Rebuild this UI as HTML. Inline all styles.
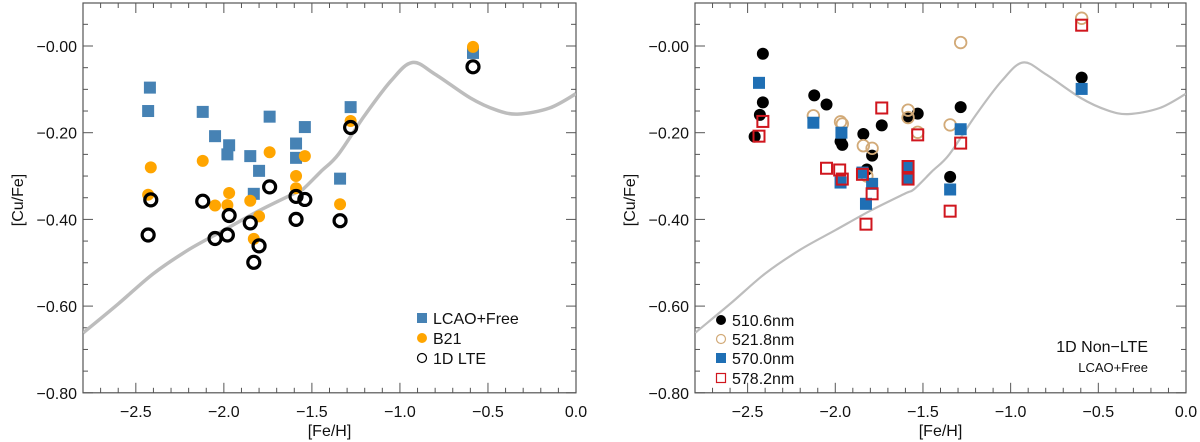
<!DOCTYPE html>
<html><head><meta charset="utf-8"><style>
body{margin:0;background:#fff;}
svg{display:block;font-family:"Liberation Sans",sans-serif;}
</style></head><body>
<svg id="chart" width="1200" height="442" xmlns="http://www.w3.org/2000/svg"></svg>
<script>
// ---- data ----
const modelX = [-2.8,-2.6,-2.4,-2.2,-2.0,-1.8,-1.6,-1.55,-1.45,-1.35,-1.2,-1.05,-0.93,-0.8,-0.6,-0.45,-0.33,-0.15,0.0];
const modelY = [-0.662,-0.595,-0.525,-0.47,-0.425,-0.38,-0.34,-0.33,-0.29,-0.25,-0.16,-0.08,-0.038,-0.065,-0.12,-0.148,-0.157,-0.143,-0.11];

const lcaoX = [-2.42,-2.43,-2.12,-2.05,-1.97,-1.98,-1.74,-1.85,-1.80,-1.83,-1.59,-1.59,-1.54,-1.28,-1.34,-0.585];
const lcaoY = [-0.096,-0.150,-0.152,-0.208,-0.229,-0.250,-0.163,-0.254,-0.288,-0.341,-0.225,-0.258,-0.187,-0.141,-0.306,-0.016];
const b21X = [-2.415,-2.43,-2.12,-2.05,-1.97,-1.98,-1.74,-1.85,-1.80,-1.83,-1.59,-1.59,-1.54,-1.28,-1.34,-0.585];
const b21Y = [-0.280,-0.343,-0.265,-0.368,-0.339,-0.367,-0.245,-0.357,-0.393,-0.445,-0.300,-0.328,-0.254,-0.173,-0.365,-0.002];
const lteX = [-2.415,-2.43,-2.12,-2.05,-1.97,-1.98,-1.74,-1.85,-1.80,-1.83,-1.59,-1.59,-1.54,-1.28,-1.34,-0.585];
const lteY = [-0.355,-0.436,-0.358,-0.444,-0.391,-0.436,-0.325,-0.408,-0.461,-0.499,-0.347,-0.400,-0.354,-0.188,-0.403,-0.048];

const n5106X = [-2.413,-2.413,-2.43,-2.46,-2.12,-2.05,-1.97,-1.96,-1.84,-1.79,-1.82,-1.735,-1.585,-1.53,-1.285,-1.345,-0.595];
const n5106Y = [-0.018,-0.130,-0.159,-0.209,-0.114,-0.135,-0.220,-0.228,-0.203,-0.253,-0.285,-0.183,-0.165,-0.156,-0.141,-0.302,-0.073];
const n5218X = [-2.125,-1.97,-1.96,-1.84,-1.79,-1.82,-1.585,-1.585,-1.53,-1.345,-1.285,-0.595];
const n5218Y = [-0.161,-0.175,-0.180,-0.230,-0.236,-0.300,-0.148,-0.165,-0.199,-0.182,0.008,0.064];
const n5700X = [-2.435,-2.125,-1.965,-1.97,-1.845,-1.79,-1.825,-1.585,-1.585,-1.285,-1.345,-0.595];
const n5700Y = [-0.085,-0.177,-0.200,-0.315,-0.292,-0.318,-0.364,-0.277,-0.307,-0.192,-0.331,-0.099];
const n5782X = [-2.413,-2.435,-2.05,-1.975,-1.96,-1.845,-1.79,-1.825,-1.735,-1.585,-1.585,-1.53,-1.285,-1.345,-0.595];
const n5782Y = [-0.174,-0.208,-0.282,-0.286,-0.307,-0.296,-0.341,-0.411,-0.143,-0.278,-0.307,-0.205,-0.224,-0.381,0.048];

const xTickVals = [-2.5,-2.0,-1.5,-1.0,-0.5,0.0];
const xTickLabels = ["\u22122.5","\u22122.0","\u22121.5","\u22121.0","\u22120.5","0.0"];
const yTickVals = [0.0,-0.2,-0.4,-0.6,-0.8];
const yTickLabels = ["\u22120.00","\u22120.20","\u22120.40","\u22120.60","\u22120.80"];

// ---- drawing ----
const NS = "http://www.w3.org/2000/svg";
const svg = document.getElementById('chart');
function mk(tag, attrs, parent){
  const e = document.createElementNS(NS, tag);
  for (const k in attrs) e.setAttribute(k, attrs[k]);
  (parent||svg).appendChild(e);
  return e;
}
function panel(left, right, name){
  const top = 3, y0 = 46, ppu = 433.5;
  const sx = v => right + (v - 0.0) * (right - left) / 2.8;
  const sy = v => y0 - v * ppu;
  const bottom = sy(-0.8);
  const g = mk('g', {});
  
  
  const frame = mk('rect', {x:left, y:top, width:right-left, height:bottom-top, fill:'none', stroke:'#555', 'stroke-width':1.2}, g);
  
  
  for (let i = 0; i <= 28; i++) {
    const v = -2.8 + i * 0.1;
    const major = Math.abs(v*2 - Math.round(v*2)) < 1e-6;
    const L = major ? 10 : 5;
    const x = sx(v);
    mk('line', {x1:x, x2:x, y1:bottom, y2:bottom-L, stroke:'#555', 'stroke-width':1}, g);
    mk('line', {x1:x, x2:x, y1:top, y2:top+L, stroke:'#555', 'stroke-width':1}, g);
  }
  xTickVals.forEach((v, i) => {
    const t = mk('text', {x:sx(v), y:bottom+24, 'font-size':16, 'text-anchor':'middle', fill:'#111'}, g);
    t.textContent = xTickLabels[i];
    
    
  });
  for (let i = 0; i <= 18; i++) {
    const v = -0.8 + i * 0.05;
    const major = Math.abs(v*5 - Math.round(v*5)) < 1e-6;
    const L = major ? 10 : 5;
    const y = sy(v);
    if (y < top) continue;
    mk('line', {x1:left, x2:left+L, y1:y, y2:y, stroke:'#555', 'stroke-width':1}, g);
    mk('line', {x1:right, x2:right-L, y1:y, y2:y, stroke:'#555', 'stroke-width':1}, g);
  }
  yTickVals.forEach((v, i) => {
    const t = mk('text', {x:left-6, y:sy(v)+6, 'font-size':16, 'text-anchor':'end', fill:'#111'}, g);
    t.textContent = yTickLabels[i];
    
    
  });
  const xl = mk('text', {x:(left+right)/2, y:436, 'font-size':16, 'text-anchor':'middle', fill:'#111'}, g);
  xl.textContent = '[Fe/H]';
  
  
  const yx = left - 60, yy = 200;
  const yl = mk('text', {x:yx, y:yy, 'font-size':16, 'text-anchor':'middle', fill:'#111', transform:`rotate(-90 ${yx} ${yy})`}, g);
  yl.textContent = '[Cu/Fe]';
  
  
  return {g, sx, sy, left, right, top, bottom};
}
function curve(p, width){
  const clipId = 'clip' + Math.round(p.left);
  const cp = mk('clipPath', {id:clipId}, p.g);
  mk('rect', {x:p.left, y:p.top, width:p.right-p.left, height:p.bottom-p.top}, cp);
  const pts = modelX.map((v, i) => [p.sx(v), p.sy(modelY[i])]);
  let d = 'M' + pts[0][0].toFixed(1) + ' ' + pts[0][1].toFixed(1);
  for (let i = 0; i < pts.length - 1; i++) {
    const p0 = pts[Math.max(0, i-1)], p1 = pts[i], p2 = pts[i+1], p3 = pts[Math.min(pts.length-1, i+2)];
    const c1 = [p1[0] + (p2[0]-p0[0])/6, p1[1] + (p2[1]-p0[1])/6];
    const c2 = [p2[0] - (p3[0]-p1[0])/6, p2[1] - (p3[1]-p1[1])/6];
    d += `C${c1[0].toFixed(1)} ${c1[1].toFixed(1)} ${c2[0].toFixed(1)} ${c2[1].toFixed(1)} ${p2[0].toFixed(1)} ${p2[1].toFixed(1)}`;
  }
  const path = mk('path', {d, fill:'none', stroke:'#bdbdbd', 'stroke-width':width, 'stroke-linejoin':'round', 'clip-path':`url(#${clipId})`}, p.g);
  
  
}
function series(p, xs, ys, kind, color, name){
  const g = mk('g', {}, p.g);
  
  
  xs.forEach((v, i) => drawSym(g, p.sx(v), p.sy(ys[i]), kind, color, name + '-point'));
}
function drawSym(g, x, y, kind, color, nm){
  let e;
  if (kind === 'sq') e = mk('rect', {x:x-6, y:y-6, width:12, height:12, fill:color}, g);
  else if (kind === 'osq') e = mk('rect', {x:x-5.5, y:y-5.5, width:11, height:11, fill:'none', stroke:color, 'stroke-width':2}, g);
  else if (kind === 'dot') e = mk('circle', {cx:x, cy:y, r:6, fill:color}, g);
  else if (kind === 'ring') e = mk('circle', {cx:x, cy:y, r:6, fill:'none', stroke:color, 'stroke-width':3.2}, g);
  else if (kind === 'thinring') e = mk('circle', {cx:x, cy:y, r:5.8, fill:'none', stroke:color, 'stroke-width':1.8}, g);
  
  
}
function legendEntry(g, x, y, kind, color, label, fs){
  const eg = mk('g', {}, g);
  
  
  let e;
  if (kind === 'sq') e = mk('rect', {x:x-5, y:y-5, width:10, height:10, fill:color}, eg);
  else if (kind === 'osq') e = mk('rect', {x:x-4.5, y:y-4.5, width:9, height:9, fill:'none', stroke:color, 'stroke-width':1.2}, eg);
  else if (kind === 'dot') e = mk('circle', {cx:x, cy:y, r:5, fill:color}, eg);
  else e = mk('circle', {cx:x, cy:y, r:4.5, fill:'none', stroke:color, 'stroke-width':1.2}, eg);
  
  
  const t = mk('text', {x:x+11, y:y+6, 'font-size':fs, fill:'#111'}, eg);
  t.textContent = label;
  
  
}

const P1 = panel(83, 576, 'left-panel-lte');
curve(P1, 3.5);
series(P1, lcaoX, lcaoY, 'sq', '#4682b4', 'lcao-free-series');
series(P1, b21X, b21Y, 'dot', '#ffa500', 'b21-series');
series(P1, lteX, lteY, 'ring', '#000', 'lte-1d-series');
const lg1 = mk('g', {}, P1.g);


legendEntry(lg1, 422, 318, 'sq', '#4682b4', 'LCAO+Free', 16);
legendEntry(lg1, 422, 338, 'dot', '#ffa500', 'B21', 16);
legendEntry(lg1, 422, 358, 'ring', '#000', '1D LTE', 16);

const P2 = panel(695, 1186, 'right-panel-nlte');
curve(P2, 2.2);
series(P2, n5106X, n5106Y, 'dot', '#000', 'line-510-6-series');
series(P2, n5218X, n5218Y, 'thinring', '#d2aa78', 'line-521-8-series');
series(P2, n5700X, n5700Y, 'sq', '#1f6fb4', 'line-570-0-series');
series(P2, n5782X, n5782Y, 'osq', '#d0161e', 'line-578-2-series');
const lg2 = mk('g', {}, P2.g);


legendEntry(lg2, 721, 320, 'dot', '#000', '510.6nm', 16);
legendEntry(lg2, 721, 339, 'ring', '#d2aa78', '521.8nm', 16);
legendEntry(lg2, 721, 358, 'sq', '#1f6fb4', '570.0nm', 16);
legendEntry(lg2, 721, 378, 'osq', '#d0161e', '578.2nm', 16);
const t1 = mk('text', {x:1148, y:352, 'font-size':16, 'text-anchor':'end', fill:'#111'}, P2.g);
t1.textContent = '1D Non\u2212LTE';


const t2 = mk('text', {x:1148, y:372, 'font-size':13, 'text-anchor':'end', fill:'#111'}, P2.g);
t2.textContent = 'LCAO+Free';


</script>
</body></html>
